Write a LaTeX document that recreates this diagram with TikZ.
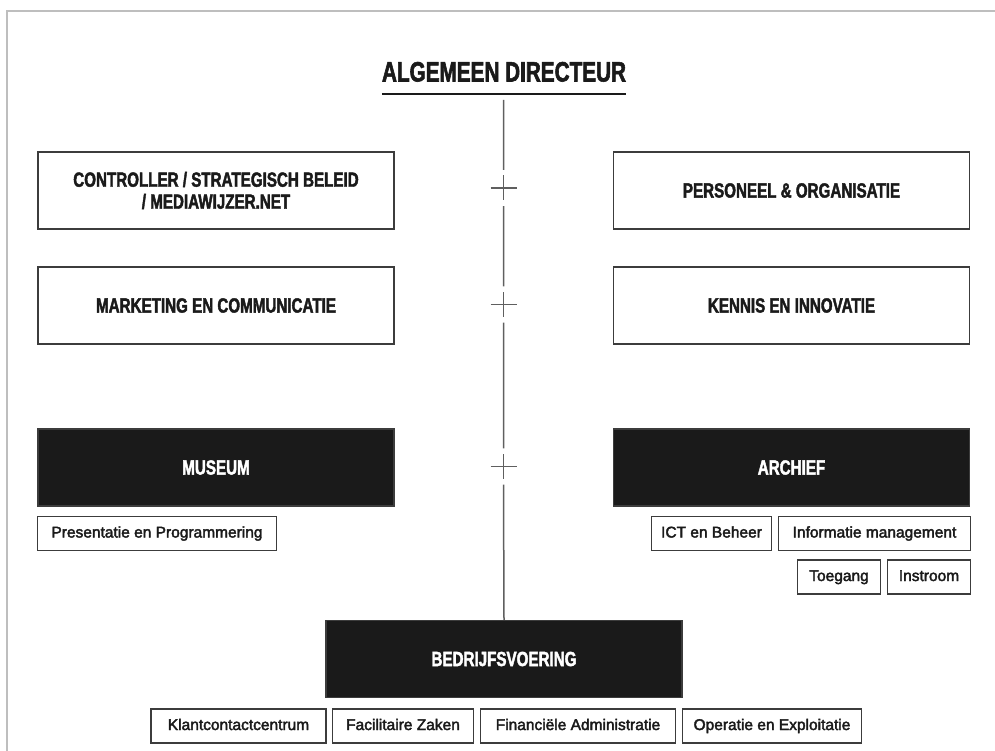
\documentclass[tikz,border=0pt]{standalone}
\usepackage{fontspec}
\usepackage{tikz}

\newfontfamily\headfont[FakeStretch=0.74,FakeBold=2]{Liberation Sans}
\newfontfamily\teamfont[FakeBold=2.5]{Liberation Sans}

\definecolor{boxline}{RGB}{60,60,60}
\definecolor{boxfill}{RGB}{26,26,26}
\definecolor{framegray}{RGB}{190,190,190}
\definecolor{spinegray}{RGB}{95,95,95}

\tikzset{
  unit/.style={draw=boxline, line width=1.4pt, minimum width=356pt, minimum height=77pt,
    inner sep=0pt, align=center, text=boxfill,
    font=\headfont\bfseries\fontsize{20.5}{22}\selectfont},
  dept/.style={unit, fill=boxfill, text=white},
  team/.style={draw=boxline, line width=1.4pt, minimum height=34pt, inner sep=0pt,
    text height=11pt, text depth=3pt, text=boxfill,
    font=\teamfont\fontsize{15.5}{18}\selectfont},
  spine/.style={draw=spinegray, line width=1.5pt},
  jump/.style={minimum width=27pt, minimum height=36pt, inner sep=0pt},
}

\begin{document}
\begin{tikzpicture}[x=1pt,y=1pt,yscale=-1,xscale=1]
\useasboundingbox (0,0) rectangle (995,751);

% frame
\draw [framegray, line width=1.5pt] (7,751) -- (7,11) -- (995,11);

% director
\node [text=boxfill, font=\headfont\bfseries\fontsize{28}{30}\selectfont, anchor=south,
  minimum width=242pt, inner xsep=0pt, inner ysep=12.6pt, text depth=0pt]
  (director) at (504,94.3) {ALGEMEEN DIRECTEUR};
\draw [boxfill, line width=1.6pt] (director.south west) -- (director.south east);
\coordinate (top) at (503.5,100);

% staff
\node [unit] (controller) at (216,190.5) {CONTROLLER / STRATEGISCH BELEID\\/ MEDIAWIJZER.NET};
\node [unit] (personeel) at (791.5,190.5) {PERSONEEL \& ORGANISATIE};
\node [unit] (marketing) at (216,305.5) {MARKETING EN COMMUNICATIE};
\node [unit] (kennis) at (791.5,305.5) {KENNIS EN INNOVATIE};

% departments
\node [dept] (museum) at (216,467.5) {MUSEUM};
\node [dept] (archief) at (791.5,467.5) {ARCHIEF};
\node [dept] (bedrijf) at (504,659) {BEDRIJFSVOERING};

% teams
\node [team, minimum width=239pt] (presentatie) at (157,533.5) {Presentatie en Programmering};
\node [team, minimum width=120pt] (ict) at (711.5,533.5) {ICT en Beheer};
\node [team, minimum width=192pt] (informatie) at (874.5,533.5) {Informatie management};
\node [team, minimum width=83pt] (toegang) at (839,577) {Toegang};
\node [team, minimum width=83pt] (instroom) at (929,577) {Instroom};
\node [team, minimum width=175pt] (klant) at (238.5,726) {Klantcontactcentrum};
\node [team, minimum width=141pt] (facilitair) at (403,726) {Facilitaire Zaken};
\node [team, minimum width=195pt] (financien) at (578,726) {Financiële Administratie};
\node [team, minimum width=179pt] (operatie) at (772,726) {Operatie en Exploitatie};

% spine with crossings
\node [jump] (j1) at (503.5,188) {};
\node [jump] (j2) at (503.5,304.5) {};
\node [jump] (j3) at (503.5,466.5) {};
\draw [spine] (top) -- (j1.north) (j1.south) -- (j2.north)
  (j2.south) -- (j3.north) (j3.south) -- (bedrijf.north);
\foreach \j in {j1,j2,j3}{
  \draw [spine] (\j.center) ++(0,-12.5) -- ++(0,25);
  \draw [spine] (\j.center) ++(-13,0) -- ++(26,0);
}

\end{tikzpicture}
\end{document}
